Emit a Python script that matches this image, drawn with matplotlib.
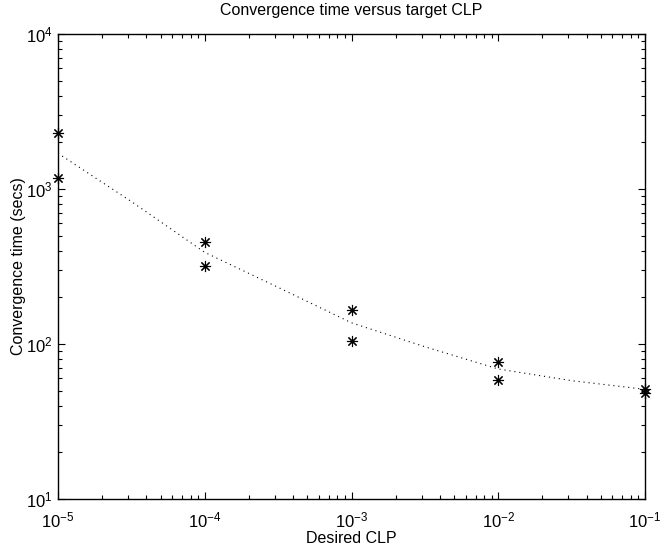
import matplotlib
matplotlib.use("Agg")
import matplotlib.pyplot as plt

# Data
clp = [1e-5, 1e-5, 1e-4, 1e-4, 1e-3, 1e-3, 1e-2, 1e-2, 1e-1, 1e-1]
conv_time = [2310, 1185, 457, 320, 166, 104, 77, 58.5, 51, 48.5]

# Dotted trend curve (values at half-decade steps)
fit_clp = [1e-5, 10**-4.5, 1e-4, 10**-3.5, 1e-3, 10**-2.5, 1e-2, 10**-1.5, 1e-1]
fit_time = [1700, 830, 390, 232, 137, 96, 69, 58, 51]

plt.rcParams['font.family'] = ['Liberation Sans', 'DejaVu Sans']
plt.rcParams['mathtext.fontset'] = 'custom'
plt.rcParams['mathtext.rm'] = 'Liberation Sans'
plt.rcParams['mathtext.it'] = 'Liberation Sans:italic'
plt.rcParams['mathtext.default'] = 'regular'

fig = plt.figure(figsize=(6.64, 5.48), dpi=100)
ax = fig.add_axes([58/664, 1 - 499/548, (645 - 58)/664, (499 - 34)/548])

ax.plot(fit_clp, fit_time, color='black', linestyle=(0, (1, 3.5)), linewidth=0.8)
ax.plot(clp, conv_time, linestyle='none', marker=(8, 2, 0), markersize=8,
        markeredgewidth=0.8, color='black', clip_on=False)

ax.set_xscale('log')
ax.set_yscale('log')
ax.set_xlim(1e-5, 1e-1)
ax.set_ylim(10, 1e4)

ax.tick_params(which='both', direction='in', top=True, right=True, labelsize=12, width=0.8)
ax.tick_params(which='major', length=5)
ax.tick_params(which='minor', length=3)
ax.tick_params(axis='x', which='major', pad=8)
ax.tick_params(axis='y', which='major', pad=4)
for s in ax.spines.values():
    s.set_linewidth(1.0)

ax.set_title('Convergence time versus target CLP', fontsize=11.5, pad=14)
ax.set_xlabel('Desired CLP', fontsize=11.5, labelpad=1)
ax.set_ylabel('Convergence time (secs)', fontsize=11.5, labelpad=0)

fig.savefig('out.png', dpi=100)
